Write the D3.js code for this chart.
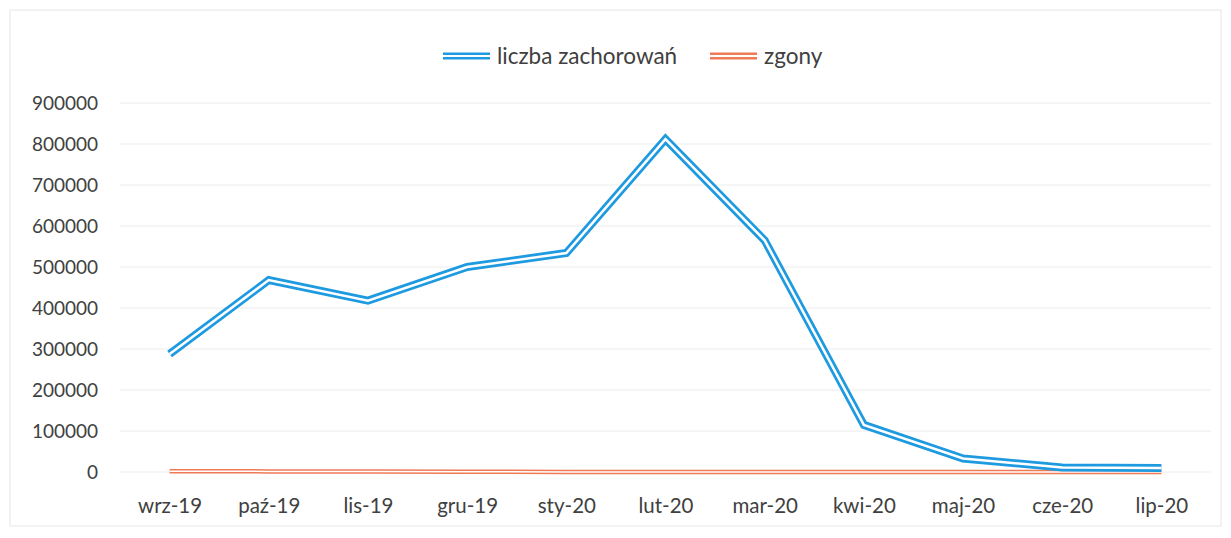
<!DOCTYPE html>
<meta charset="utf-8">
<script src="https://d3js.org/d3.v7.min.js"></script>
<style type="text/css">
body { margin: 0; background: #fff; }
text { font-family: Lato, "Open Sans", sans-serif; fill: #404040; }
</style>
<body>
</body>
<script>

// data
var months = ["wrz-19", "paź-19", "lis-19", "gru-19", "sty-20", "lut-20",
              "mar-20", "kwi-20", "maj-20", "cze-20", "lip-20"];
var cases = [288000, 468000, 418000, 500000, 534000, 812000,
             565000, 115000, 33000, 11000, 10000];
var deaths = [2000, 1500, 1000, 500, 300, 200, 100, 50, 20, 10, 5];
var yTicks = [0, 100000, 200000, 300000, 400000, 500000, 600000, 700000, 800000, 900000];

var W = 1231, H = 538;
var margin = {top: 103, right: 20, bottom: 66, left: 120};
var width = W - margin.left - margin.right;
var height = H - margin.top - margin.bottom;

var svg = d3.select("body").append("svg")
  .attr("width", W)
  .attr("height", H);

// faint chart border
svg.append("rect")
  .attr("x", 10).attr("y", 10)
  .attr("width", W - 20).attr("height", H - 22)
  .attr("fill", "none")
  .attr("stroke", "#e6e6e6");

var g = svg.append("g")
  .attr("transform", "translate(" + margin.left + "," + margin.top + ")");

var xScale = d3.scalePoint()
  .domain(months)
  .range([0, width])
  .padding(0.5);

var yScale = d3.scaleLinear()
  .domain([0, 900000])
  .range([height, 0]);

// gridlines
g.selectAll(".grid")
  .data(yTicks)
  .enter().append("line")
  .attr("class", "grid")
  .attr("x1", 0).attr("x2", width)
  .attr("y1", function(d) { return yScale(d); })
  .attr("y2", function(d) { return yScale(d); })
  .attr("stroke", "#ececec")
  .attr("stroke-width", 1);

// y axis
var yAxis = d3.axisLeft(yScale).tickValues(yTicks).tickSize(0).tickPadding(22)
  .tickFormat(d3.format("d"));
var yAxisGroup = g.append("g").call(yAxis);
yAxisGroup.select(".domain").remove();
yAxisGroup.selectAll("text").style("font-size", "19px");

// x axis
var xAxis = d3.axisBottom(xScale).tickSize(0).tickPadding(26);
var xAxisGroup = g.append("g")
  .attr("transform", "translate(0," + height + ")")
  .call(xAxis);
xAxisGroup.select(".domain").remove();
xAxisGroup.selectAll("text").style("font-size", "20.5px");

var line = d3.line()
  .x(function(d, i) { return xScale(months[i]); })
  .y(function(d) { return yScale(d); });

// double ("compound") line look: thick colour stroke, thin white stroke on top
function doubleLine(values, color, outer, inner) {
  g.append("path").datum(values)
    .attr("d", line)
    .attr("fill", "none")
    .attr("stroke", color)
    .attr("stroke-width", outer)
    .attr("stroke-linejoin", "miter");
  g.append("path").datum(values)
    .attr("d", line)
    .attr("fill", "none")
    .attr("stroke", "#fff")
    .attr("stroke-width", inner)
    .attr("stroke-linejoin", "miter");
}

doubleLine(deaths, "#f07a55", 4.5, 1.5);
doubleLine(cases, "#1e9ae0", 8, 2.5);

// legend
var legend = svg.append("g");
var items = [
  {label: "liczba zachorowań", color: "#1e9ae0", x: 443},
  {label: "zgony", color: "#f07a55", x: 710}
];
items.forEach(function(d) {
  legend.append("line")
    .attr("x1", d.x).attr("x2", d.x + 47)
    .attr("y1", 56).attr("y2", 56)
    .attr("stroke", d.color).attr("stroke-width", 7);
  legend.append("line")
    .attr("x1", d.x).attr("x2", d.x + 47)
    .attr("y1", 56).attr("y2", 56)
    .attr("stroke", "#fff").attr("stroke-width", 2);
  legend.append("text")
    .attr("x", d.x + 54).attr("y", 64)
    .style("font-size", "22.5px")
    .text(d.label);
});

</script>
